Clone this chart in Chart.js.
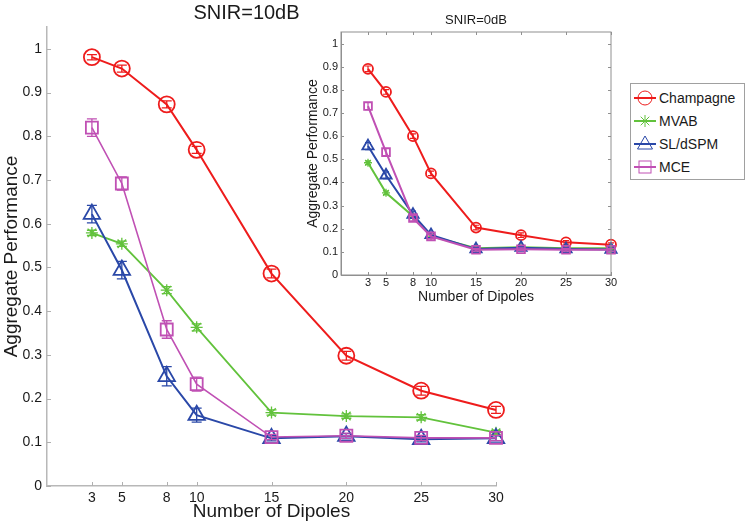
<!DOCTYPE html>
<html>
<head>
<meta charset="utf-8">
<script src="https://cdn.jsdelivr.net/npm/chart.js@4.4.0/dist/chart.umd.min.js"></script>
<style>
  body { margin: 0; background: #fff; font-family: "Liberation Sans", Arial, sans-serif; }
  #wrap { position: relative; width: 750px; height: 527px; overflow: hidden; }
  #mainChart { position: absolute; left: 0; top: 0; }
  #insetChart { position: absolute; left: 290px; top: 0; }
  #legend { position: absolute; left: 630px; top: 83px; width: 115px; height: 97px;
            border: 1px solid #a0a0a0; background: #fff; box-sizing: border-box; }
  .item { position: absolute; left: 2px; height: 20px; display: flex; align-items: center;
          font-size: 14px; color: #1a1a1a; }
  .item svg { margin-right: 2px; }
</style>
</head>
<body>
<div id="wrap">
  <canvas id="mainChart" width="750" height="527"></canvas>
  <canvas id="insetChart" width="335" height="310"></canvas>
  <div id="legend"></div>
</div>
<script>
// x values and axis ticks
const dipoles = [3, 5, 8, 10, 15, 20, 25, 30];
const xTicks = [3, 5, 8, 10, 15, 20, 25, 30];
const yTicks = [0, 0.1, 0.2, 0.3, 0.4, 0.5, 0.6, 0.7, 0.8, 0.9, 1];

const seriesNames = ['Champagne', 'MVAB', 'SL/dSPM', 'MCE'];

// SNIR = 10dB (main plot)
const champagne10 = [0.981, 0.955, 0.873, 0.769, 0.486, 0.298, 0.218, 0.174];
const mvab10      = [0.579, 0.554, 0.448, 0.363, 0.168, 0.160, 0.157, 0.122];
const sl10        = [0.622, 0.494, 0.251, 0.162, 0.109, 0.114, 0.107, 0.109];
const mce10       = [0.820, 0.692, 0.358, 0.233, 0.112, 0.115, 0.110, 0.110];
const champagne10Err = [0.006, 0.008, 0.008, 0.008, 0.010, 0.010, 0.010, 0.008];
const mvab10Err      = [0.006, 0.006, 0.008, 0.008, 0.006, 0.005, 0.006, 0.005];
const sl10Err        = [0.020, 0.020, 0.022, 0.016, 0.006, 0.006, 0.006, 0.006];
const mce10Err       = [0.020, 0.015, 0.020, 0.016, 0.006, 0.006, 0.006, 0.006];

// SNIR = 0dB (inset)
const champagne0 = [0.891, 0.791, 0.600, 0.439, 0.205, 0.172, 0.141, 0.131];
const mvab0      = [0.485, 0.355, 0.254, 0.168, 0.116, 0.120, 0.116, 0.116];
const sl0        = [0.557, 0.431, 0.261, 0.173, 0.112, 0.118, 0.112, 0.110];
const mce0       = [0.730, 0.531, 0.246, 0.167, 0.109, 0.111, 0.109, 0.109];
const champagne0Err = [0.012, 0.010, 0.010, 0.010, 0.010, 0.010, 0.008, 0.008];
const mvab0Err      = [0.008, 0.008, 0.008, 0.008, 0.006, 0.006, 0.006, 0.006];
const sl0Err        = [0.015, 0.015, 0.015, 0.012, 0.006, 0.006, 0.006, 0.006];
const mce0Err       = [0.015, 0.015, 0.012, 0.010, 0.006, 0.006, 0.006, 0.006];

const colors = ['#ee1c1c', '#62c23c', '#2a48a8', '#c050b4'];
const markers = ['circle', 'star', 'triangle', 'rect'];

Chart.defaults.font.family = '"Liberation Sans", Arial, sans-serif';
Chart.defaults.color = '#1a1a1a';

// inside tick marks, optional full box, and a free-placed title
const axesDecor = {
    id: 'axesDecor',
    afterDraw(chart, args, opts) {
        const { ctx, chartArea: a, scales: { x, y } } = chart;
        ctx.save();
        ctx.strokeStyle = opts.color;
        ctx.lineWidth = 1;
        ctx.beginPath();
        x.ticks.forEach(t => {
            const px = Math.round(x.getPixelForValue(t.value)) + 0.5;
            ctx.moveTo(px, a.bottom); ctx.lineTo(px, a.bottom - opts.len);
            if (opts.box) { ctx.moveTo(px, a.top); ctx.lineTo(px, a.top + opts.len); }
        });
        y.ticks.forEach(t => {
            const py = Math.round(y.getPixelForValue(t.value)) + 0.5;
            ctx.moveTo(a.left, py); ctx.lineTo(a.left + opts.len, py);
            if (opts.box) { ctx.moveTo(a.right, py); ctx.lineTo(a.right - opts.len, py); }
        });
        ctx.stroke();
        if (opts.box) {
            ctx.lineWidth = opts.boxWidth;
            ctx.strokeRect(a.left, a.top, a.width, a.height);
        }
        if (opts.title) {
            ctx.fillStyle = '#1a1a1a';
            ctx.font = opts.titleSize + 'px "Liberation Sans", Arial, sans-serif';
            ctx.textAlign = 'center';
            ctx.textBaseline = 'middle';
            ctx.fillText(opts.title, a.left + a.width / 2 + opts.titleDx, opts.titleY);
        }
        ctx.restore();
    }
};

// vertical error bars with caps, drawn right after each dataset
const errorBars = {
    id: 'errorBars',
    afterDatasetDraw(chart, args, opts) {
        const ds = chart.data.datasets[args.index];
        if (!ds.errors) return;
        const { ctx, scales: { y } } = chart;
        ctx.save();
        ctx.strokeStyle = ds.borderColor;
        ctx.lineWidth = opts.width;
        ctx.beginPath();
        args.meta.data.forEach((pt, i) => {
            const v = ds.data[i].y, e = ds.errors[i];
            const top = y.getPixelForValue(v + e), bot = y.getPixelForValue(v - e);
            ctx.moveTo(pt.x, top); ctx.lineTo(pt.x, bot);
            ctx.moveTo(pt.x - opts.cap, top); ctx.lineTo(pt.x + opts.cap, top);
            ctx.moveTo(pt.x - opts.cap, bot); ctx.lineTo(pt.x + opts.cap, bot);
        });
        ctx.stroke();
        ctx.restore();
    }
};

function makeDatasets(valueSets, errorSets, radii, widths) {
    return valueSets.map((vals, k) => ({
        label: seriesNames[k],
        data: dipoles.map((d, i) => ({ x: d, y: vals[i] })),
        errors: errorSets[k],
        borderColor: colors[k],
        backgroundColor: colors[k],
        borderWidth: widths[k],
        pointStyle: markers[k],
        pointRadius: radii[k],
        pointBorderColor: colors[k],
        pointBackgroundColor: 'rgba(0,0,0,0)',
        pointBorderWidth: k === 1 ? 1.3 : 1.8,
        tension: 0,
        clip: false,
        order: 3 - k
    }));
}

function axisOptions(o) {
    return {
        x: {
            type: 'linear', min: 0, max: 30,
            afterBuildTicks: s => { s.ticks = xTicks.map(v => ({ value: v })); },
            afterFit: s => { s.height = o.xHeight; },
            grid: { display: false, drawTicks: false },
            border: { color: o.axisColor, width: o.axisWidth },
            ticks: { padding: o.xPad, font: { size: o.tickSize }, color: '#1a1a1a', autoSkip: false, maxRotation: 0,
                     callback: v => String(v) },
            title: { display: true, text: 'Number of Dipoles', font: { size: o.titleSize }, padding: o.xTitlePad, color: '#1a1a1a' }
        },
        y: {
            type: 'linear', min: 0, max: 1.05,
            afterBuildTicks: s => { s.ticks = yTicks.map(v => ({ value: v })); },
            afterFit: s => { s.width = o.yWidth; },
            grid: { display: false, drawTicks: false },
            border: { color: o.axisColor, width: o.axisWidth },
            ticks: { padding: o.yPad, font: { size: o.tickSize }, color: '#1a1a1a', autoSkip: false,
                     callback: v => String(v) },
            title: { display: true, text: 'Aggregate Performance', font: { size: o.titleSize }, padding: o.yTitlePad, color: '#1a1a1a' }
        }
    };
}

new Chart(document.getElementById('mainChart'), {
    type: 'line',
    data: {
        datasets: makeDatasets([champagne10, mvab10, sl10, mce10],
            [champagne10Err, mvab10Err, sl10Err, mce10Err],
            [8, 6, 9.5, 8.5], [2, 1.8, 2, 1.6])
    },
    options: {
        responsive: false, animation: false, devicePixelRatio: 1,
        layout: { padding: { top: 27, right: 254, left: 0, bottom: 0 } },
        plugins: {
            legend: { display: false }, tooltip: { enabled: false },
            errorBars: { width: 1.3, cap: 5 },
            axesDecor: { color: '#b0b0b0', len: 4, box: false, title: 'SNIR=10dB', titleSize: 20, titleDx: -25, titleY: 13 }
        },
        scales: axisOptions({ xHeight: 41, yWidth: 47, axisColor: '#b8b8b8', axisWidth: 1.5,
            tickSize: 14, titleSize: 19, xPad: 4, yPad: 5, xTitlePad: 4, yTitlePad: 0 })
    },
    plugins: [axesDecor, errorBars]
});

new Chart(document.getElementById('insetChart'), {
    type: 'line',
    data: {
        datasets: makeDatasets([champagne0, mvab0, sl0, mce0],
            [champagne0Err, mvab0Err, sl0Err, mce0Err],
            [5, 4, 6.5, 5.5], [2, 2, 2, 2])
    },
    options: {
        responsive: false, animation: false, devicePixelRatio: 1,
        layout: { padding: { top: 32, right: 14, left: 0, bottom: 0 } },
        plugins: {
            legend: { display: false }, tooltip: { enabled: false },
            errorBars: { width: 1.2, cap: 3 },
            axesDecor: { color: '#909090', len: 3, box: true, boxWidth: 1, title: 'SNIR=0dB', titleSize: 13, titleDx: 0, titleY: 20 }
        },
        scales: axisOptions({ xHeight: 35, yWidth: 51, axisColor: '#909090', axisWidth: 1,
            tickSize: 11, titleSize: 14, xPad: 1, yPad: 3, xTitlePad: 4, yTitlePad: 15 })
    },
    plugins: [axesDecor, errorBars]
});

// MATLAB-style legend: line with marker, then label
function markerSvg(style, color) {
    const c = 12, y = 10;
    let m = '';
    if (style === 'circle') m = `<circle cx="${c}" cy="${y}" r="7" fill="none" stroke="${color}" stroke-width="1"/>`;
    if (style === 'star') m = `<path d="M${c - 6} ${y}h12M${c} ${y - 6}v12M${c - 4.3} ${y - 4.3}l8.6 8.6M${c - 4.3} ${y + 4.3}l8.6 -8.6" stroke="${color}" stroke-width="1"/>`;
    if (style === 'triangle') m = `<path d="M${c} ${y - 8}L${c + 7.5} ${y + 5}L${c - 7.5} ${y + 5}Z" fill="none" stroke="${color}" stroke-width="1"/>`;
    if (style === 'rect') m = `<rect x="${c - 6}" y="${y - 6}" width="12" height="12" fill="none" stroke="${color}" stroke-width="1"/>`;
    return `<svg width="24" height="20"><line x1="1" y1="${y}" x2="23" y2="${y}" stroke="${color}" stroke-width="2"/>${m}</svg>`;
}

const legend = document.getElementById('legend');
const itemTops = [4, 27, 50, 73];
seriesNames.forEach((name, k) => {
    const div = document.createElement('div');
    div.className = 'item';
    div.style.top = itemTops[k] + 'px';
    div.innerHTML = markerSvg(markers[k], colors[k]) + '<span>' + name + '</span>';
    legend.appendChild(div);
});
</script>
</body>
</html>
